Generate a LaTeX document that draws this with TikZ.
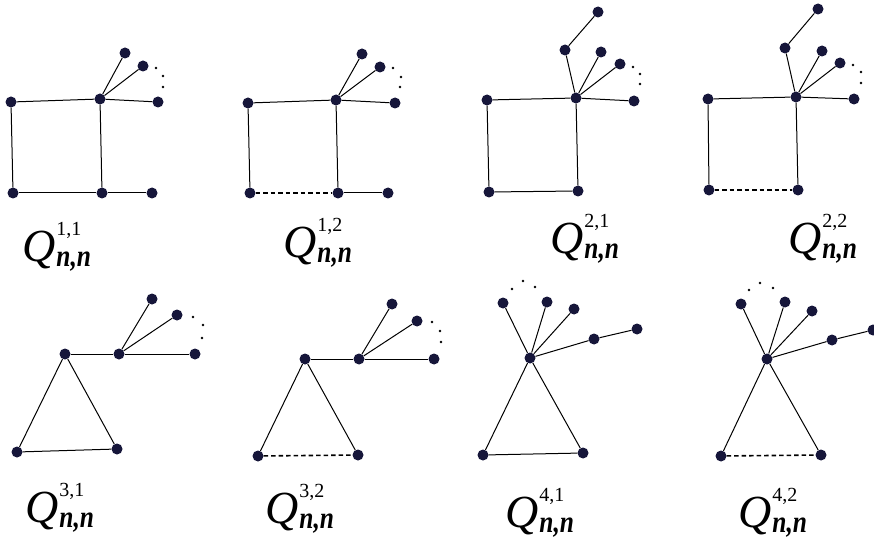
\documentclass[tikz,border=0pt]{standalone}
\usepackage{fontspec}
\setmainfont{Liberation Serif}
\usepackage{graphicx}
\definecolor{vert}{RGB}{22,22,58}
\tikzset{
  dot/.style={circle, fill=vert, inner sep=0pt, minimum size=11pt},
  edge/.style={line width=1pt},
  gap/.style={line width=1.6pt, dash pattern=on 4.5pt off 3pt}
}
\newcommand{\qlabel}[1]{{\fontsize{46}{46}\selectfont\itshape Q}\kern1pt\rlap{\raisebox{26pt}{\fontsize{20}{20}\selectfont #1}}\raisebox{-5pt}{\scalebox{0.82}[1]{\fontsize{31}{31}\selectfont\bfseries\itshape n,n}}}
\begin{document}
\begin{tikzpicture}[x=1pt, y=-1pt]
  \useasboundingbox (0,0) rectangle (874,537);
  % Top row, first: square with pendant and fan
  \node[dot] (a1) at (11,102) {};
  \node[dot] (b1) at (13,193) {};
  \node[dot] (h1) at (100,99) {};
  \node[dot] (c1) at (102,193) {};
  \node[dot] (d1) at (152,193) {};
  \node[dot] (r1) at (158,102) {};
  \node[dot] (l1) at (125,53) {};
  \node[dot] (m1) at (143,66) {};
  \foreach \u/\v in {a1/h1, a1/b1, b1/c1, h1/c1, c1/d1, h1/r1, h1/l1, h1/m1}
    \draw[edge] (\u) -- (\v);
  \node[anchor=base west, inner sep=0pt] (q11) at (22,261) {\qlabel{1,1}};
  % Top row, second: bottom side missing
  \node[dot] (a2) at (248,103) {};
  \node[dot] (b2) at (250,193) {};
  \node[dot] (h2) at (336,100) {};
  \node[dot] (c2) at (338,193) {};
  \node[dot] (d2) at (388,193) {};
  \node[dot] (r2) at (395,103) {};
  \node[dot] (l2) at (362,54) {};
  \node[dot] (m2) at (380,67) {};
  \foreach \u/\v in {a2/h2, a2/b2, h2/c2, c2/d2, h2/r2, h2/l2, h2/m2}
    \draw[edge] (\u) -- (\v);
  \draw[gap] (b2) -- (c2);
  \node[anchor=base west, inner sep=0pt] (q12) at (283,257) {\qlabel{1,2}};
  % Top row, third: path of length two on the hub
  \node[dot] (a3) at (487,100) {};
  \node[dot] (b3) at (489,192) {};
  \node[dot] (h3) at (576,98) {};
  \node[dot] (c3) at (578,191) {};
  \node[dot] (r3) at (634,101) {};
  \node[dot] (p3) at (565,50) {};
  \node[dot] (t3) at (598,12) {};
  \node[dot] (l3) at (601,52) {};
  \node[dot] (m3) at (620,64) {};
  \foreach \u/\v in {a3/h3, a3/b3, b3/c3, h3/c3, h3/r3, h3/p3, p3/t3, h3/l3, h3/m3}
    \draw[edge] (\u) -- (\v);
  \node[anchor=base west, inner sep=0pt] (q21) at (550,253) {\qlabel{2,1}};
  % Top row, fourth
  \node[dot] (a4) at (708,99) {};
  \node[dot] (b4) at (709,190) {};
  \node[dot] (h4) at (796,97) {};
  \node[dot] (c4) at (798,190) {};
  \node[dot] (r4) at (854,99) {};
  \node[dot] (p4) at (785,48) {};
  \node[dot] (t4) at (818,9) {};
  \node[dot] (l4) at (822,51) {};
  \node[dot] (m4) at (840,63) {};
  \foreach \u/\v in {a4/h4, a4/b4, h4/c4, h4/r4, h4/p4, p4/t4, h4/l4, h4/m4}
    \draw[edge] (\u) -- (\v);
  \draw[gap] (b4) -- (c4);
  \node[anchor=base west, inner sep=0pt] (q22) at (788,253) {\qlabel{2,2}};
  % Bottom row, first: triangle with a bridge to the fan
  \node[dot] (a5) at (65,354) {};
  \node[dot] (b5) at (17,452) {};
  \node[dot] (c5) at (117,449) {};
  \node[dot] (h5) at (119,354) {};
  \node[dot] (r5) at (195,354) {};
  \node[dot] (l5) at (152,299) {};
  \node[dot] (m5) at (177,315) {};
  \foreach \u/\v in {a5/b5, a5/c5, b5/c5, a5/h5, h5/r5, h5/l5, h5/m5}
    \draw[edge] (\u) -- (\v);
  \node[anchor=base west, inner sep=0pt] (q31) at (25,522) {\qlabel{3,1}};
  % Bottom row, second
  \node[dot] (a6) at (305,359) {};
  \node[dot] (b6) at (258,456) {};
  \node[dot] (c6) at (358,455) {};
  \node[dot] (h6) at (359,359) {};
  \node[dot] (r6) at (434,359) {};
  \node[dot] (l6) at (392,304) {};
  \node[dot] (m6) at (417,321) {};
  \foreach \u/\v in {a6/b6, a6/c6, a6/h6, h6/r6, h6/l6, h6/m6}
    \draw[edge] (\u) -- (\v);
  \draw[gap] (b6) -- (c6);
  \node[anchor=base west, inner sep=0pt] (q32) at (265,523) {\qlabel{3,2}};
  % Bottom row, third: fan on the apex
  \node[dot] (h7) at (530,358) {};
  \node[dot] (b7) at (483,455) {};
  \node[dot] (c7) at (583,453) {};
  \node[dot] (l7) at (503,303) {};
  \node[dot] (m7) at (547,302) {};
  \node[dot] (n7) at (574,309) {};
  \node[dot] (p7) at (594,339) {};
  \node[dot] (t7) at (637,329) {};
  \foreach \u/\v in {h7/b7, h7/c7, b7/c7, h7/l7, h7/m7, h7/n7, h7/p7, p7/t7}
    \draw[edge] (\u) -- (\v);
  \node[anchor=base west, inner sep=0pt] (q41) at (505,527) {\qlabel{4,1}};
  % Bottom row, fourth
  \node[dot] (h8) at (767,359) {};
  \node[dot] (b8) at (721,456) {};
  \node[dot] (c8) at (821,455) {};
  \node[dot] (l8) at (741,304) {};
  \node[dot] (m8) at (785,302) {};
  \node[dot] (n8) at (812,311) {};
  \node[dot] (p8) at (832,340) {};
  \node[dot] (t8) at (873,330) {};
  \foreach \u/\v in {h8/b8, h8/c8, h8/l8, h8/m8, h8/n8, h8/p8, p8/t8}
    \draw[edge] (\u) -- (\v);
  \draw[gap] (b8) -- (c8);
  \node[anchor=base west, inner sep=0pt] (q42) at (738,527) {\qlabel{4,2}};
  % ellipsis dots of the fans
  \foreach \px/\py in {156/68, 163/76, 163/87, 393/68, 401/77, 400/87,
      633/67, 640/74, 640/84, 853/65, 861/72, 861/83,
      193/317, 203/325, 202/338, 432/322, 440/331, 441/342,
      512/289, 523/281, 535/287, 749/290, 760/283, 773/288}
    \fill (\px,\py) circle (1.3pt);
\end{tikzpicture}
\end{document}
